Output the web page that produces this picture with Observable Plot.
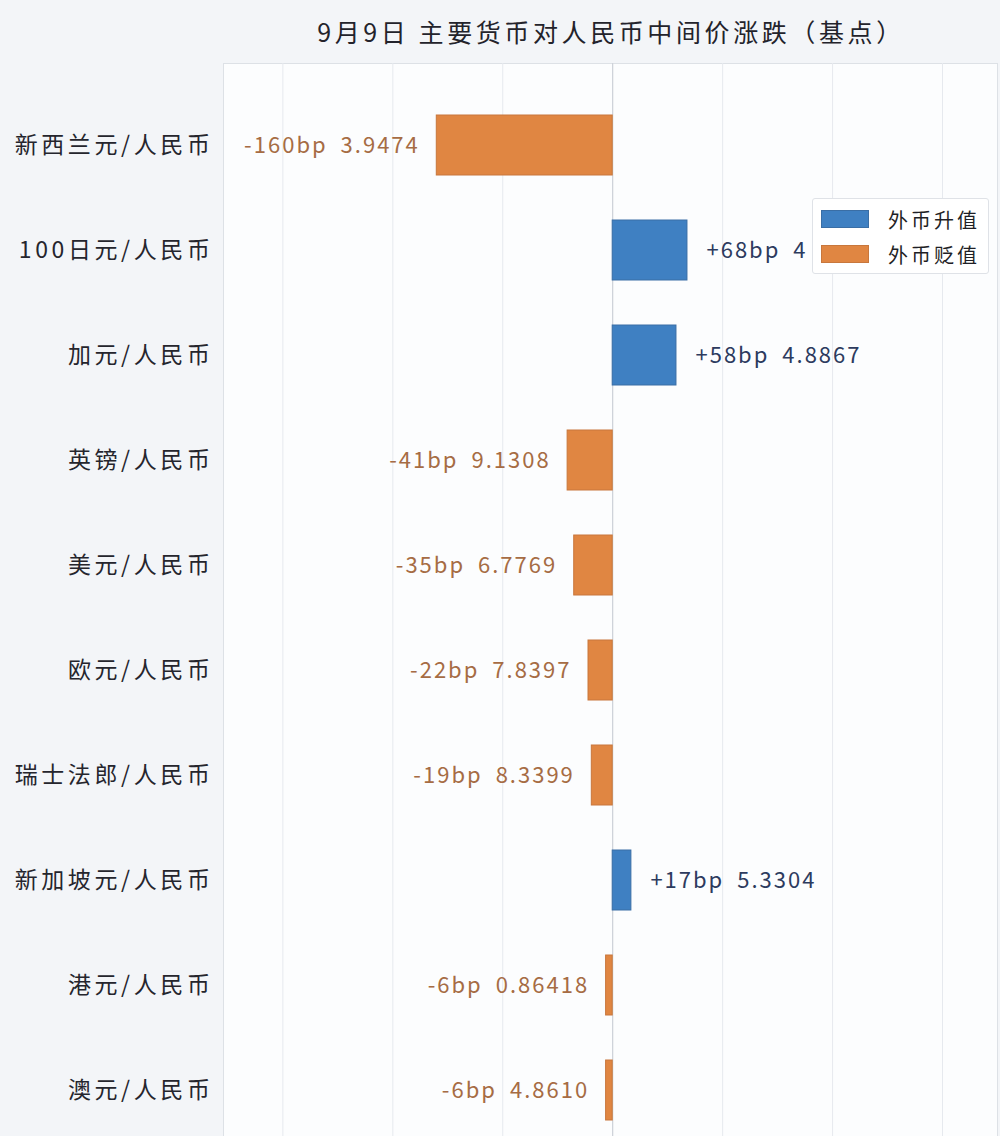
<!DOCTYPE html>
<html>
<head>
<meta charset="utf-8">
<script src="https://cdn.jsdelivr.net/npm/d3@7"></script>
<script src="https://cdn.jsdelivr.net/npm/@observablehq/plot@0.6"></script>
<style>
  html, body { margin: 0; padding: 0; overflow: hidden; background: #f3f5f8; }
  body { width: 1000px; height: 1136px; position: relative; font-family: "Noto Sans CJK SC", "Noto Sans", sans-serif; }
  #title { position: absolute; left: 0; top: 0; width: 1222px; height: 62px; text-align: center; line-height: 62px;
           font-size: 25px; letter-spacing: 3.6px; color: #23232b; }
  #chart { position: absolute; left: 0; top: 62px; }
  #legend { position: absolute; left: 812px; top: 198px; width: 177px; height: 76px; background: #fff;
            border: 1px solid #dfe2e7; border-radius: 3px; box-sizing: border-box; }
  .li { position: absolute; left: 8px; height: 18px; display: flex; align-items: center; }
  .sw { width: 48px; height: 18px; box-sizing: border-box; }
  .lt { margin-left: 19px; font-size: 20px; letter-spacing: 3px; color: #1f1f26; white-space: nowrap; }
  g[aria-label="y-axis tick label"] text { letter-spacing: 3.6px; }
  g[aria-label="text"] text { letter-spacing: 2px; }
</style>
</head>
<body>
<div id="title">9月9日 主要货币对人民币中间价涨跌（基点）</div>
<div id="chart"></div>
<div id="legend"></div>
<script>
const categories = ["新西兰元/人民币","100日元/人民币","加元/人民币","英镑/人民币","美元/人民币","欧元/人民币","瑞士法郎/人民币","新加坡元/人民币","港元/人民币","澳元/人民币"];
const changes = [-160, 68, 58, -41, -35, -22, -19, 17, -6, -6];
const rates = ["3.9474", "4", "4.8867", "9.1308", "6.7769", "7.8397", "8.3399", "5.3304", "0.86418", "4.8610"];
const xTicks = [-300, -200, -100, 0, 100, 200, 300];
const legendLabels = ["外币升值", "外币贬值"];

const upColor = "#3f80c2", downColor = "#e08642";
const data = categories.map((c, i) => ({
  cat: c, v: changes[i],
  label: (changes[i] > 0 ? "+" : "") + changes[i] + "bp\u2002" + rates[i]
}));

const chart = Plot.plot({
  width: 1000,
  height: 1109,
  marginTop: 1,
  marginBottom: 0,
  marginLeft: 223,
  marginRight: 3,
  style: { fontFamily: "'Noto Sans CJK SC', 'Noto Sans', sans-serif", background: "transparent" },
  x: { domain: [-354, 350], axis: null },
  y: { domain: categories, paddingInner: 0.43, paddingOuter: 0.47, label: null },
  marks: [
    Plot.frame({ fill: "#fcfdfe", stroke: "#dde1e6" }),
    Plot.gridX(xTicks, { stroke: "#e6e9ee", strokeOpacity: 1 }),
    Plot.ruleX([0], { stroke: "#c9cdd4" }),
    Plot.barX(data, { x: "v", y: "cat",
      fill: d => d.v > 0 ? upColor : downColor,
      stroke: d => d.v > 0 ? "#3a6ea5" : "#c8773c", strokeWidth: 1 }),
    Plot.text(data.filter(d => d.v < 0), { x: "v", y: "cat", text: "label", textAnchor: "end", dx: -17,
      fill: "#a66c44", fontSize: 22 }),
    Plot.text(data.filter(d => d.v > 0), { x: "v", y: "cat", text: "label", textAnchor: "start", dx: 19,
      fill: "#2d3b5e", fontSize: 22 }),
    Plot.axisY({ tickSize: 0, tickPadding: 10, fontSize: 23, fill: "#25252d", label: null })
  ]
});
document.getElementById("chart").appendChild(chart);

const lg = document.getElementById("legend");
[upColor, downColor].forEach((c, i) => {
  const row = document.createElement("div");
  row.className = "li";
  row.style.top = (11 + i * 35) + "px";
  row.innerHTML = `<div class="sw" style="background:${c};border:1px solid ${i ? '#c8773c' : '#3a6ea5'}"></div><div class="lt">${legendLabels[i]}</div>`;
  lg.appendChild(row);
});
</script>
</body>
</html>
